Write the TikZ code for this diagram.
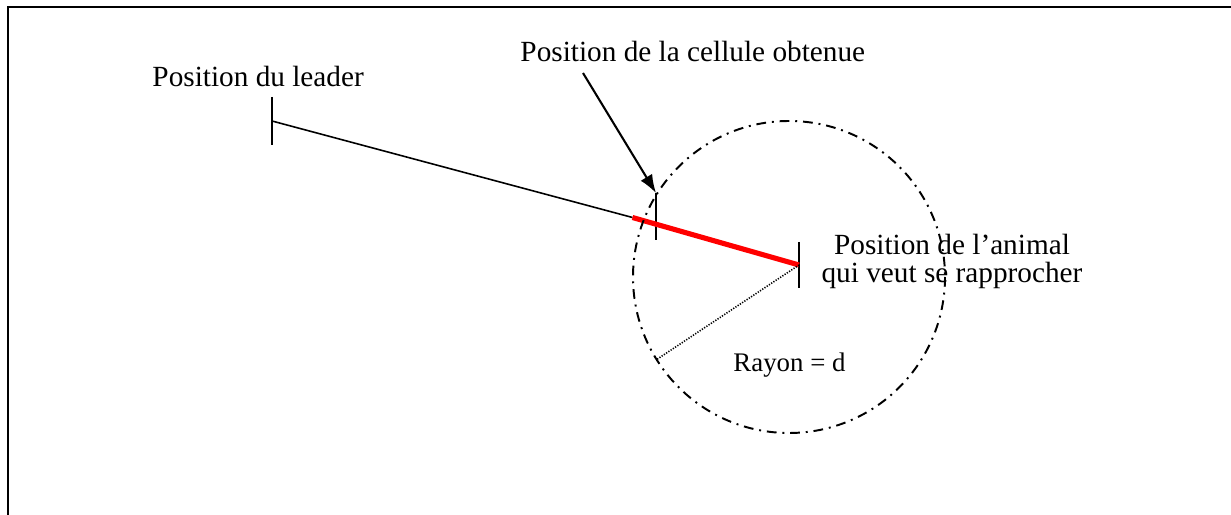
\documentclass[tikz,border=0pt]{standalone}
\usepackage{fontspec}
\setmainfont{Liberation Serif}
\usetikzlibrary{arrows.meta}

\tikzset{
  frameline/.style={line width=1.1pt},
  tickline/.style={line width=0.85pt},
  pathline/.style={line width=0.65pt},
  redline/.style={line width=2.1pt, color={rgb, 255:red, 255; green, 0; blue, 0}},
  pointer/.style={line width=0.85pt, -{Latex[length=7.5pt,width=5.5pt]}},
  dashdotline/.style={line width=0.8pt, dash pattern={on 4pt off 2.4pt on 0.8pt off 2.4pt}},
  radiusline/.style={line width=0.65pt, dash pattern={on 0.5pt off 0.6pt}},
  label/.style={inner sep=0pt, font=\fontsize{12}{14}\selectfont}
}

\begin{document}
\begin{tikzpicture}[x=0.41pt,y=0.41pt,yscale=-1,xscale=1]
\useasboundingbox (0,0) rectangle (1231,515);

%Frame (cut on the right and at the bottom)
\draw [frameline] (8,515) -- (8,7) -- (1231,7) ;

% Positions
\coordinate (leader) at (272,121);
\coordinate (leader_top) at (272,97);
\coordinate (leader_bot) at (272,145);
\coordinate (animal) at (799,265);
\coordinate (animal_top) at (799,242);
\coordinate (animal_bot) at (799,288);
\coordinate (cell_top) at (656,193);
\coordinate (cell_bot) at (656,240);
\coordinate (red_start) at (632.5,217.5);
\coordinate (arrow_start) at (583,73);
\coordinate (circ_center) at (789,277);
\coordinate (radius_end) at (656,360);

%Straight Lines
\draw [tickline] (leader_top) -- (leader_bot) ;
\draw [tickline] (animal_top) -- (animal_bot) ;
\draw [tickline] (cell_top) -- (cell_bot) ;
\draw [pathline] (leader) -- (red_start) ;
\draw [redline] (red_start) -- (animal) ;

%Shape: Circle
\draw [dashdotline] (circ_center) circle (156) ;
%Dotted radius
\draw [radiusline] (animal) -- (radius_end) ;

%Arrow
\draw [pointer] (arrow_start) -- (cell_top) ;

% Text Node
\node (lbl_leader) [label, anchor=base west] at (152,87) {Position du leader};
% Text Node
\node (lbl_cell) [label, anchor=base west] at (520,62) {Position de la cellule obtenue};
% Text Node
\node (lbl_animal) [label, anchor=base, align=center, font=\fontsize{12}{11.6}\selectfont] at (952,283) {Position de l’animal\\qui veut se rapprocher};
% Text Node
\node (lbl_rayon) [label, anchor=base west, font=\fontsize{11}{13}\selectfont] at (733,372) {Rayon = d};

\end{tikzpicture}
\end{document}
